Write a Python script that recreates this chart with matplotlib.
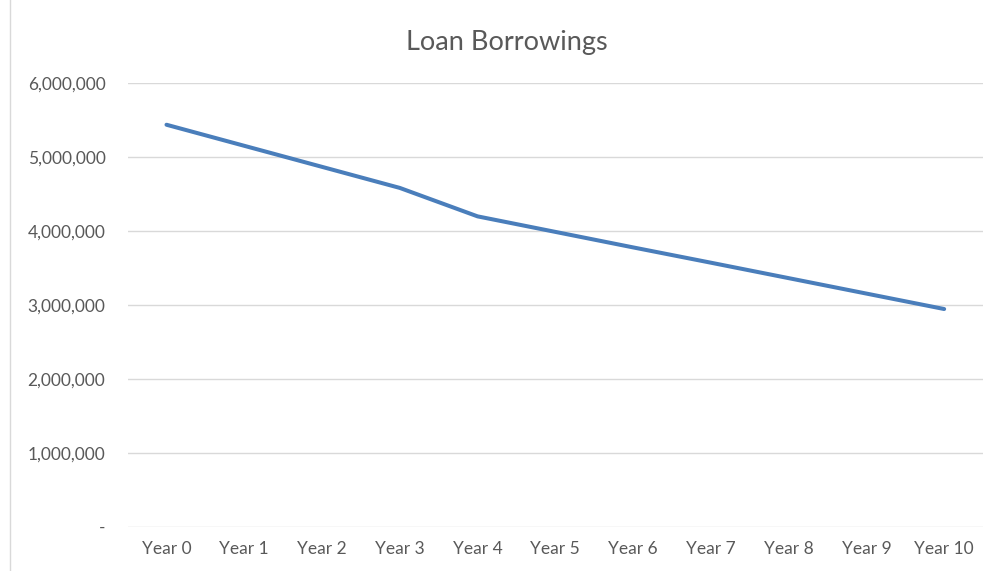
import matplotlib.pyplot as plt
from matplotlib.lines import Line2D
from matplotlib.ticker import FuncFormatter

years = ["Year 0", "Year 1", "Year 2", "Year 3", "Year 4", "Year 5",
         "Year 6", "Year 7", "Year 8", "Year 9", "Year 10"]
borrowings = [5440000, 5155000, 4870000, 4585000, 4200000, 3990000,
              3780000, 3573000, 3364000, 3155000, 2946000]

plt.rcParams['font.family'] = ['Lato', 'DejaVu Sans']

fig = plt.figure(figsize=(9.97, 5.71), dpi=100)
ax = fig.add_axes([0.128, 0.0776, 0.858, 0.7764])

x = range(len(years))
ax.plot(x, borrowings, color='#4a7ebb', linewidth=2.9, solid_capstyle='round')

ax.set_xlim(-0.5, len(years) - 0.5)
ax.set_ylim(0, 6000000)
ax.set_yticks(range(0, 6000001, 1000000))
ax.yaxis.set_major_formatter(FuncFormatter(lambda v, p: '-' if v == 0 else f'{int(v):,}'))
ax.set_xticks(list(x))
ax.set_xticklabels(years)

ax.grid(axis='y', color='#d9d9d9', linewidth=1)
ax.set_axisbelow(True)
for s in ax.spines.values():
    s.set_visible(False)
ax.tick_params(axis='both', length=0, labelsize=12.5, labelcolor='#595959')
ax.tick_params(axis='y', pad=16)
ax.tick_params(axis='x', pad=10)

fig.text(0.508, 0.926, 'Loan Borrowings', ha='center', va='center',
         fontsize=19.5, color='#595959')

# chart area border on the left
fig.add_artist(Line2D([0.0105, 0.0105], [0, 1], transform=fig.transFigure,
                      color='#d9d9d9', linewidth=1))

fig.savefig('out.png', dpi=100)
